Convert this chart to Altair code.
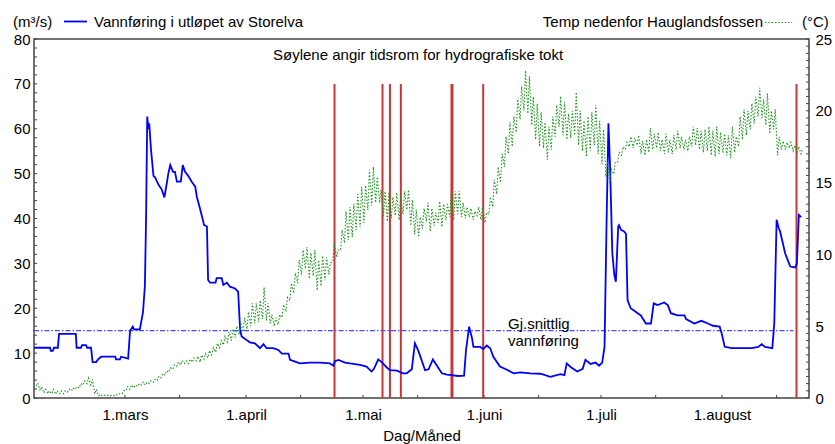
import altair as alt
import pandas as pd

YEAR_START = pd.Timestamp("2006-01-01")

# Discharge at the outlet of Storelva (m3/s); time given as day of year
flow_doy = [
    36.7, 40.8, 41.0, 41.5, 41.8, 42.8, 43.1, 47.4, 47.6, 48.7,
    49.0, 50.0, 50.3, 51.3, 51.7, 52.6, 53.1, 53.9, 57.5, 57.7,
    58.7, 59.0, 60.8, 61.3, 62.0, 62.3, 63.8, 64.6, 65.1, 65.4,
    65.7, 66.0, 66.2, 66.7, 67.3, 67.7, 68.6, 69.4, 70.1, 70.7,
    71.1, 71.6, 72.3, 72.8, 73.3, 74.3, 74.8, 75.4, 76.2, 77.1,
    78.0, 78.4, 79.2, 80.1, 80.2, 81.0, 81.3, 81.8, 83.2, 83.5,
    84.8, 85.2, 86.1, 86.9, 88.2, 89.0, 89.5, 89.9, 91.2, 92.0,
    93.3, 94.6, 95.5, 96.3, 98.0, 99.3, 100.2, 101.9, 102.3, 103.6,
    104.8, 107.4, 110.0, 112.5, 113.4, 113.8, 114.7, 116.4, 117.7, 120.2,
    121.9, 123.2, 123.8, 124.9, 125.9, 127.1, 127.9, 129.7, 131.3, 132.2,
    133.5, 134.3, 135.2, 136.9, 137.8, 138.9, 139.7, 141.2, 142.5, 143.7,
    145.3, 146.9, 147.4, 148.2, 148.9, 149.3, 151.0, 151.8, 152.7, 153.6,
    154.4, 156.1, 157.9, 159.6, 161.3, 163.9, 166.5, 169.0, 171.6, 172.6,
    173.2, 174.2, 175.9, 177.3, 178.0, 179.3, 180.6, 181.5, 182.3, 182.9,
    183.4, 183.9, 184.3, 184.9, 185.4, 185.8, 186.4, 186.6, 187.1, 187.9,
    188.4, 188.8, 189.6, 191.4, 192.2, 193.5, 194.8, 195.5, 196.5, 198.2,
    199.1, 199.9, 201.6, 203.4, 203.8, 205.9, 207.7, 209.4, 210.7, 212.4,
    212.9, 213.7, 215.5, 220.6, 222.3, 223.2, 224.0, 225.9, 226.4, 227.0,
    227.5, 227.9, 229.2, 230.5, 231.8, 232.2, 232.7, 233.3,
]
flow_q = [
    11.2, 11.2, 10.5, 10.5, 11.2, 11.2, 14.3, 14.3, 11.2, 11.2,
    11.8, 11.8, 11.2, 11.2, 8.0, 8.0, 8.6, 9.2, 9.2, 8.6,
    8.6, 9.2, 8.8, 15.0, 15.9, 15.3, 15.3, 19.0, 25.0, 40.0,
    62.7, 60.0, 61.2, 55.0, 49.5, 49.2, 47.5, 46.5, 44.7, 47.8,
    50.0, 51.9, 50.4, 50.4, 48.2, 48.2, 51.9, 50.4, 49.5, 48.2,
    47.1, 44.9, 42.3, 39.2, 38.6, 38.2, 26.3, 25.7, 25.7, 26.7,
    26.7, 25.2, 25.7, 24.8, 24.4, 23.7, 15.2, 13.7, 12.9, 12.4,
    12.2, 11.1, 12.0, 11.1, 11.1, 10.7, 9.9, 9.9, 8.5, 8.1,
    7.7, 7.9, 7.9, 7.7, 7.2, 8.2, 8.5, 7.9, 7.7, 7.4,
    7.0, 5.9, 6.5, 8.6, 7.9, 6.8, 6.2, 6.1, 5.5, 5.5,
    6.4, 12.2, 10.5, 6.2, 6.4, 8.6, 7.5, 5.5, 5.2, 5.1,
    4.9, 5.0, 10.7, 15.9, 13.5, 11.4, 11.4, 10.9, 11.7, 11.1,
    9.2, 7.0, 6.3, 5.5, 5.7, 5.5, 5.4, 4.7, 5.3, 5.1,
    7.7, 6.9, 5.9, 6.5, 8.5, 7.6, 7.9, 7.2, 7.9, 11.4,
    38.2, 61.2, 52.0, 32.2, 27.5, 25.9, 38.2, 38.5, 37.5, 37.1,
    36.6, 21.8, 20.0, 18.9, 18.4, 16.6, 16.6, 21.1, 20.7, 21.3,
    20.7, 18.9, 18.4, 18.4, 17.6, 16.6, 17.2, 16.6, 16.1, 15.9,
    14.5, 11.4, 11.1, 11.1, 11.4, 12.0, 11.4, 11.1, 16.6, 39.7,
    38.0, 37.1, 32.2, 29.3, 29.1, 30.0, 40.8, 40.3,
]

# Water temperature below Hauglandsfossen (deg C): daily low and high,
# one value per day starting on day of year 37 (6 February)
temp_first_doy = 37
temp_low = [
    0.85, 0.5, 0.35, 0.3, 0.3, 0.25, 0.3, 0.3, 0.4, 0.5,
    0.6, 0.7, 0.9, 1.0, 0.9, 0.3, 0.15, 0.15, 0.15, 0.15,
    0.15, 0.2, 0.3, 0.5, 0.6, 0.7, 0.8, 0.9, 0.9, 1.0,
    1.1, 1.2, 1.4, 1.6, 1.8, 2.0, 2.2, 2.3, 2.4, 2.4,
    2.5, 2.6, 2.5, 2.7, 2.8, 3.0, 3.2, 3.5, 3.7, 3.9,
    4.0, 4.2, 4.4, 4.6, 4.8, 5.0, 5.2, 5.3, 5.5, 5.4,
    5.2, 5.0, 5.1, 5.6, 6.0, 6.8, 7.3, 8.0, 8.6, 9.0,
    8.3, 8.5, 7.5, 7.8, 8.2, 8.6, 9.5, 9.8, 10.3, 10.8,
    11.0, 11.2, 11.7, 11.9, 12.2, 13.1, 13.4, 13.6, 13.6, 12.6,
    12.3, 12.5, 12.7, 12.4, 12.8, 13.1, 12.0, 11.4, 11.2, 11.8,
    12.3, 11.6, 12.0, 12.2, 11.9, 12.4, 12.6, 12.4, 12.8, 12.6,
    12.5, 12.6, 12.4, 12.7, 12.4, 12.2, 12.8, 13.3, 14.2, 15.0,
    16.1, 17.0, 17.5, 18.5, 19.4, 20.0, 19.8, 19.0, 18.0, 17.5,
    17.4, 16.6, 17.3, 18.2, 18.9, 18.3, 18.0, 18.1, 18.3, 17.6,
    17.2, 16.8, 17.2, 17.6, 17.0, 16.3, 15.4, 15.0, 15.6, 16.4,
    16.9, 17.3, 17.5, 17.4, 17.6, 17.0, 16.9, 17.1, 17.3, 17.4,
    17.2, 17.0, 17.1, 17.0, 17.3, 17.4, 17.3, 17.2, 17.5, 17.6,
    17.3, 17.1, 17.2, 16.9, 16.8, 17.0, 17.1, 16.9, 16.7, 17.1,
    17.5, 18.0, 18.3, 18.7, 19.1, 19.6, 19.5, 19.0, 18.4, 18.7,
    16.9, 17.3, 17.3, 17.4, 17.2, 17.1, 17.0,
]
temp_high = [
    1.05, 0.8, 0.6, 0.5, 0.6, 0.5, 0.5, 0.5, 0.6, 0.7,
    0.8, 1.0, 1.2, 1.4, 1.3, 0.6, 0.25, 0.2, 0.2, 0.2,
    0.25, 0.3, 0.5, 0.8, 0.9, 0.9, 1.0, 1.1, 1.1, 1.2,
    1.3, 1.5, 1.7, 1.9, 2.1, 2.3, 2.5, 2.6, 2.6, 2.7,
    2.8, 2.9, 3.0, 3.1, 3.3, 3.5, 3.8, 4.0, 4.3, 4.6,
    4.8, 5.0, 5.3, 5.6, 6.0, 6.6, 6.6, 6.8, 7.7, 6.6,
    5.8, 5.6, 5.8, 6.5, 7.0, 8.0, 8.7, 9.6, 10.3, 10.5,
    10.1, 10.3, 9.6, 9.9, 9.8, 9.4, 10.8, 10.3, 11.7, 13.0,
    13.3, 13.5, 14.2, 14.7, 14.8, 15.9, 16.1, 15.4, 14.5, 14.4,
    14.3, 14.0, 14.3, 14.1, 14.4, 14.5, 13.8, 13.1, 12.6, 13.2,
    13.6, 13.2, 12.9, 13.7, 13.5, 13.5, 14.6, 14.4, 14.4, 13.6,
    13.3, 13.2, 13.0, 13.3, 13.4, 12.9, 14.0, 15.2, 16.1, 17.0,
    18.2, 19.2, 19.6, 20.8, 21.7, 22.8, 22.4, 21.0, 20.5, 19.9,
    19.2, 18.9, 19.6, 20.4, 21.0, 20.6, 19.8, 20.0, 21.3, 20.0,
    19.3, 19.6, 19.9, 20.4, 19.3, 18.7, 16.5, 15.9, 16.4, 17.1,
    17.5, 17.8, 18.2, 18.1, 18.3, 17.9, 18.0, 18.8, 18.4, 18.5,
    18.0, 18.4, 18.0, 18.3, 18.6, 18.2, 18.0, 18.2, 18.9, 18.8,
    18.6, 18.7, 18.9, 18.6, 18.9, 18.5, 18.4, 18.3, 18.9, 18.2,
    19.6, 20.1, 20.0, 20.5, 21.0, 21.6, 20.8, 21.2, 20.0, 20.1,
    18.2, 17.9, 17.8, 17.8, 17.6, 17.5, 17.4,
]

# Hydrographic surveys (day of year) and bar width
survey_doy = [113.7, 126.0, 127.9, 130.7, 143.8, 151.8, 232.1]
survey_width = [2, 2, 2, 2, 3, 2, 2]
survey_top = 70

# Mean discharge
mean_flow = 15
mean_from_doy, mean_to_doy = 36.68, 231.3

# Axis extents and ticks
x_from_doy, x_to_doy = 36.68, 235.3
flow_labels = [0, 10, 20, 30, 40, 50, 60, 70, 80]
flow_minor = list(range(0, 81, 2))
temp_labels = [0, 5, 10, 15, 20, 25]
temp_minor = [v / 2 for v in range(0, 51)]
month_first_doy = [60, 91, 121, 152, 182, 213]
date_tick_doy = [60, 74, 91, 105, 121, 135, 152, 166, 182, 196, 213, 227]

W, H = 775, 359
FONT = "Liberation Sans"
FS = 15
FRAME = "#444444"
GREEN = "#1f951f"


def when(doy):
    return YEAR_START + pd.to_timedelta(pd.Series(doy, dtype=float) - 1, unit="D")


def dt(ts):
    return alt.DateTime(year=ts.year, month=ts.month, date=ts.day,
                        hours=ts.hour, minutes=ts.minute)


x_domain = [dt(when([x_from_doy])[0]), dt(when([x_to_doy])[0])]
x_axis = alt.Axis(
    values=[dt(t) for t in when(month_first_doy)],
    labelExpr="'1.' + ['januar','februar','mars','april','mai','juni','juli',"
              "'august','september'][month(datum.value)]",
    labelPadding=9, labelAngle=0, labelOverlap=False, title=None,
)
X = alt.X("time:T", scale=alt.Scale(domain=x_domain), axis=x_axis, title=None)

left_scale = alt.Scale(domain=[0, 80], nice=False, zero=False)
left_axis = alt.Axis(values=flow_labels, orient="left", labelPadding=4, title=None)
right_scale = alt.Scale(domain=[0, 25], nice=False, zero=False)
right_axis = alt.Axis(values=temp_labels, orient="right", labelPadding=6, title=None)

# ---- data frames
flow_df = pd.DataFrame({"time": when(flow_doy), "q": flow_q})

temp_doy, temp_val = [], []
for i, (lo, hi) in enumerate(zip(temp_low, temp_high)):
    day = temp_first_doy + i
    temp_doy += [day + 0.25, day + 0.65]
    temp_val += [lo, hi]
temp_df = pd.DataFrame({"time": when(temp_doy), "temp": temp_val})

survey_df = pd.DataFrame({
    "time": when(survey_doy), "base": 0, "top": survey_top, "w": survey_width,
})
mean_df = pd.DataFrame({
    "time": when([mean_from_doy]), "end": when([mean_to_doy]), "q": [mean_flow],
})
date_ticks_df = pd.DataFrame({"time": when(date_tick_doy)})


def label(text, x, y, align="left", baseline="alphabetic"):
    return alt.Chart(pd.DataFrame({"t": [text]})).mark_text(
        font=FONT, fontSize=FS, color="black", align=align, baseline=baseline
    ).encode(text="t:N", x=alt.value(x), y=alt.value(y))


# ---- left (discharge) group
surveys = alt.Chart(survey_df).mark_rule(color="#c83737").encode(
    x=X,
    y=alt.Y("base:Q", scale=left_scale, axis=left_axis, title=None),
    y2="top:Q",
    strokeWidth=alt.StrokeWidth("w:Q", scale=None),
)
mean_line = alt.Chart(mean_df).mark_rule(
    color="#4a4aff", strokeWidth=1.3, strokeDash=[5, 2, 1.5, 2]
).encode(
    x=X, x2="end:T",
    y=alt.Y("q:Q", scale=left_scale, axis=left_axis, title=None),
)
flow_line = alt.Chart(flow_df).mark_line(color="#0000ff", strokeWidth=1.8).encode(
    x=X, y=alt.Y("q:Q", scale=left_scale, axis=left_axis, title=None),
)
flow_ticks = alt.Chart(pd.DataFrame({"v": flow_minor})).mark_rule(
    color=FRAME, strokeWidth=1
).encode(
    x=alt.value(0), x2=alt.value(3),
    y=alt.Y("v:Q", scale=left_scale, axis=left_axis, title=None),
)
date_ticks = alt.Chart(date_ticks_df).mark_rule(color=FRAME, strokeWidth=1).encode(
    x=X, y=alt.value(H), y2=alt.value(H - 3),
)

legend_flow = alt.Chart(pd.DataFrame({"k": [0]})).mark_rule(
    color="#0000ff", strokeWidth=1.8
).encode(x=alt.value(30), x2=alt.value(53), y=alt.value(-17.5))
legend_temp = alt.Chart(pd.DataFrame({"k": [0]})).mark_rule(
    color=GREEN, strokeWidth=1.2, strokeDash=[1.5, 1.8]
).encode(x=alt.value(731), x2=alt.value(758), y=alt.value(-16.5))

left_group = alt.layer(
    surveys, mean_line, flow_line, flow_ticks, date_ticks,
    legend_flow, legend_temp,
    label("(m³/s)", -21, -12.5),
    label("Vannføring i utløpet av Storelva", 60, -12.5),
    label("Temp nedenfor Hauglandsfossen", 729, -12.5, align="right"),
    label("(°C)", 768, -12.5),
    label("Søylene angir tidsrom for hydrografiske tokt", 239, 21),
    label("Gj.snittlig", 474, 290),
    label("vannføring", 474, 306.5),
    label("Dag/Måned", 388, 401.5, align="center"),
)

# ---- right (temperature) group
temp_line = alt.Chart(temp_df).mark_line(
    color=GREEN, strokeWidth=1.1, strokeDash=[1.5, 1.8]
).encode(
    x=X, y=alt.Y("temp:Q", scale=right_scale, axis=right_axis, title=None),
)
temp_ticks = alt.Chart(pd.DataFrame({"v": temp_minor})).mark_rule(
    color=FRAME, strokeWidth=1
).encode(
    x=alt.value(W), x2=alt.value(W - 3),
    y=alt.Y("v:Q", scale=right_scale, axis=right_axis, title=None),
)
right_group = alt.layer(temp_line, temp_ticks)

chart = alt.layer(left_group, right_group).resolve_scale(
    y="independent"
).properties(
    width=W, height=H,
    padding={"left": 34, "top": 39, "right": 26, "bottom": 46},
    autosize=alt.AutoSizeParams(type="none"),
).configure_axis(
    labelFont=FONT, labelFontSize=FS, labelColor="black",
    grid=False, ticks=False, domain=False,
).configure_view(
    stroke=FRAME, strokeWidth=1.5,
)

chart.save("out.html", embed_options={"renderer": "svg", "actions": False})
